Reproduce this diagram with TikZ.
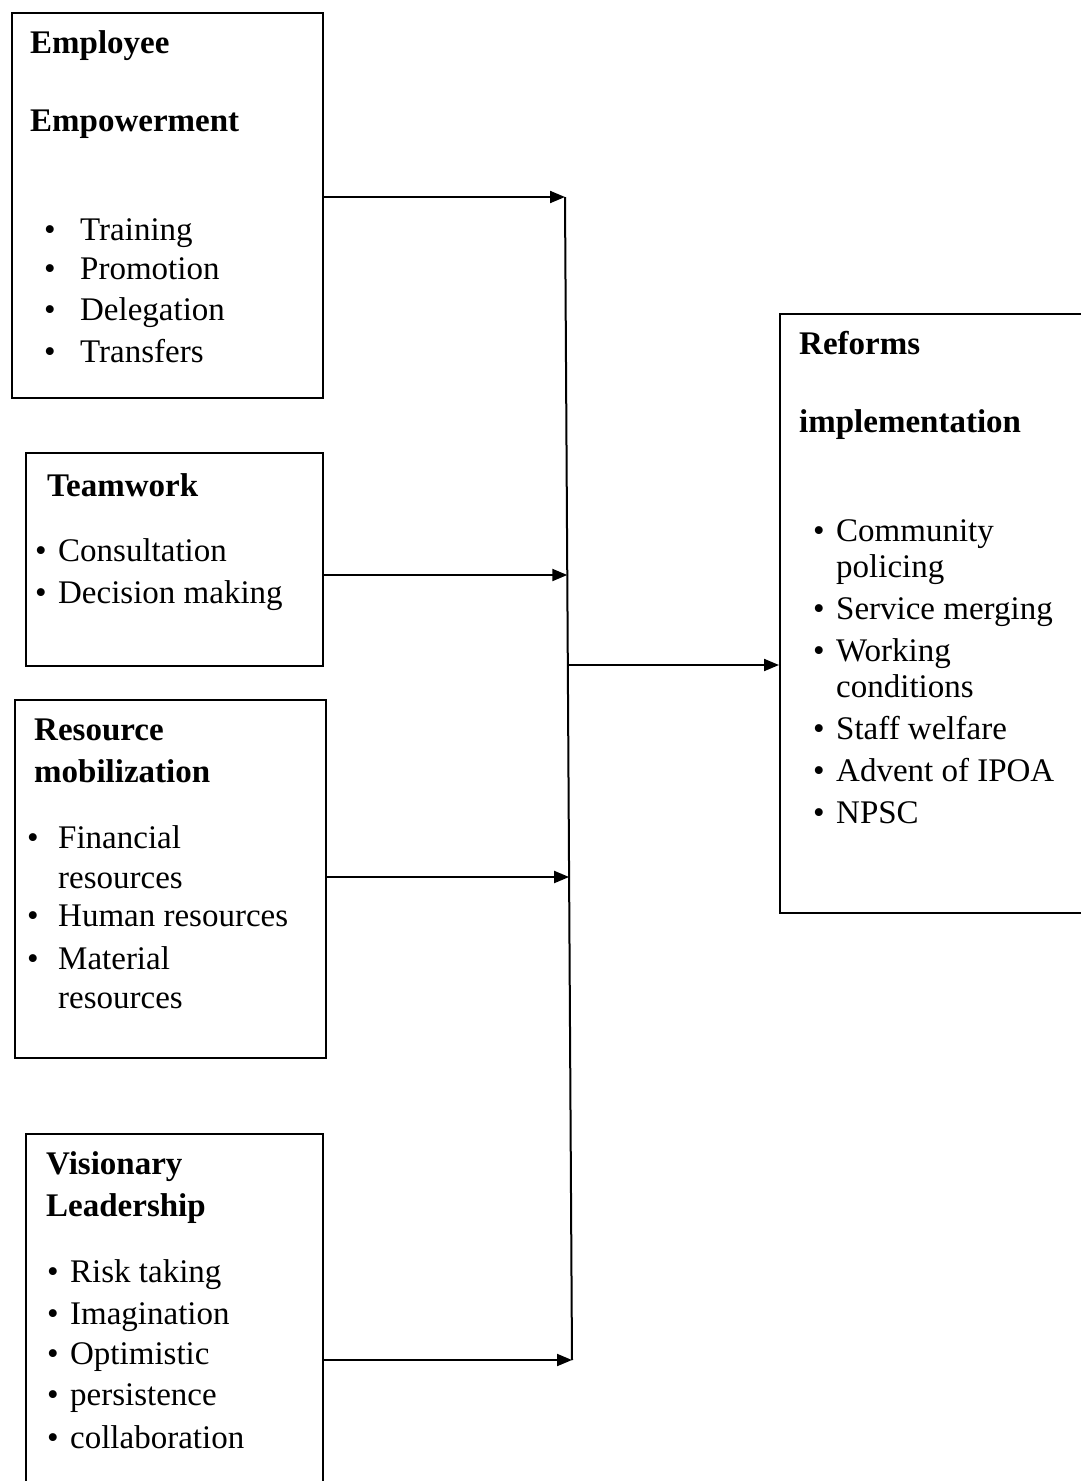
\documentclass[tikz,border=0pt]{standalone}
\usepackage{fontspec}
\setmainfont{Liberation Serif}
\usetikzlibrary{arrows.meta}
\newcommand{\blt}[1]{\makebox[#1][l]{\textbullet}}
\tikzset{
  box/.style={draw, line width=2pt, rectangle, inner sep=0pt, anchor=north west},
  txt/.style={anchor=base west, inner sep=0pt, font=\fontsize{33}{40}\selectfont},
  head/.style={txt, font=\fontsize{33}{40}\selectfont\bfseries},
  arr/.style={line width=2pt, -{Triangle[length=15pt, width=12pt]}},
  trunk/.style={line width=2pt}
}
\begin{document}
\begin{tikzpicture}[x=1pt, y=-1pt]
\useasboundingbox (0,0) rectangle (1081,1481);
\node[box, minimum width=311pt, minimum height=385pt] (emp) at (11,12) {};
\node[box, minimum width=297pt, minimum height=213pt] (team) at (25,452) {};
\node[box, minimum width=311pt, minimum height=358pt] (res) at (14,699) {};
\node[box, minimum width=297pt, minimum height=370pt] (vis) at (25,1133) {};
\node[box, minimum width=320pt, minimum height=599pt] (ref) at (779,313) {};
\node[head] (emph1) at (30,53) {Employee};
\node[head] (emph2) at (30,131) {Empowerment};
\node[txt] (emp1) at (44,240) {\blt{36pt}Training};
\node[txt] (emp2) at (44,279) {\blt{36pt}Promotion};
\node[txt] (emp3) at (44,320) {\blt{36pt}Delegation};
\node[txt] (emp4) at (44,362) {\blt{36pt}Transfers};
\node[head] (teamh) at (47,496) {Teamwork};
\node[txt] (team1) at (35,561) {\blt{23pt}Consultation};
\node[txt] (team2) at (35,603) {\blt{23pt}Decision making};
\node[head] (resh1) at (34,740) {Resource};
\node[head] (resh2) at (34,782) {mobilization};
\node[txt] (res1) at (27,848) {\blt{31pt}Financial};
\node[txt] (res2) at (58,888) {resources};
\node[txt] (res3) at (27,926) {\blt{31pt}Human resources};
\node[txt] (res4) at (27,969) {\blt{31pt}Material};
\node[txt] (res5) at (58,1008) {resources};
\node[head] (vish1) at (46,1174) {Visionary};
\node[head] (vish2) at (46,1216) {Leadership};
\node[txt] (vis1) at (47,1282) {\blt{23pt}Risk taking};
\node[txt] (vis2) at (47,1324) {\blt{23pt}Imagination};
\node[txt] (vis3) at (47,1364) {\blt{23pt}Optimistic};
\node[txt] (vis4) at (47,1405) {\blt{23pt}persistence};
\node[txt] (vis5) at (47,1448) {\blt{23pt}collaboration};
\node[head] (refh1) at (799,354) {Reforms};
\node[head] (refh2) at (799,432) {implementation};
\node[txt] (ref1) at (813,541) {\blt{23pt}Community};
\node[txt] (ref2) at (836,577) {policing};
\node[txt] (ref3) at (813,619) {\blt{23pt}Service merging};
\node[txt] (ref4) at (813,661) {\blt{23pt}Working};
\node[txt] (ref5) at (836,697) {conditions};
\node[txt] (ref6) at (813,739) {\blt{23pt}Staff welfare};
\node[txt] (ref7) at (813,781) {\blt{23pt}Advent of IPOA};
\node[txt] (ref8) at (813,823) {\blt{23pt}NPSC};
\coordinate (j1) at (565,197);
\coordinate (j2) at (567.3,575);
\coordinate (jo) at (567.8,665);
\coordinate (j3) at (569.1,877);
\coordinate (j4) at (572,1360);
\draw[trunk] (j1) -- (j4);
\draw[arr] (emp.east |- j1) -- (j1);
\draw[arr] (team.east |- j2) -- (j2);
\draw[arr] (res.east |- j3) -- (j3);
\draw[arr] (vis.east |- j4) -- (j4);
\draw[arr] (jo) -- (ref.west |- jo);
\end{tikzpicture}
\end{document}
